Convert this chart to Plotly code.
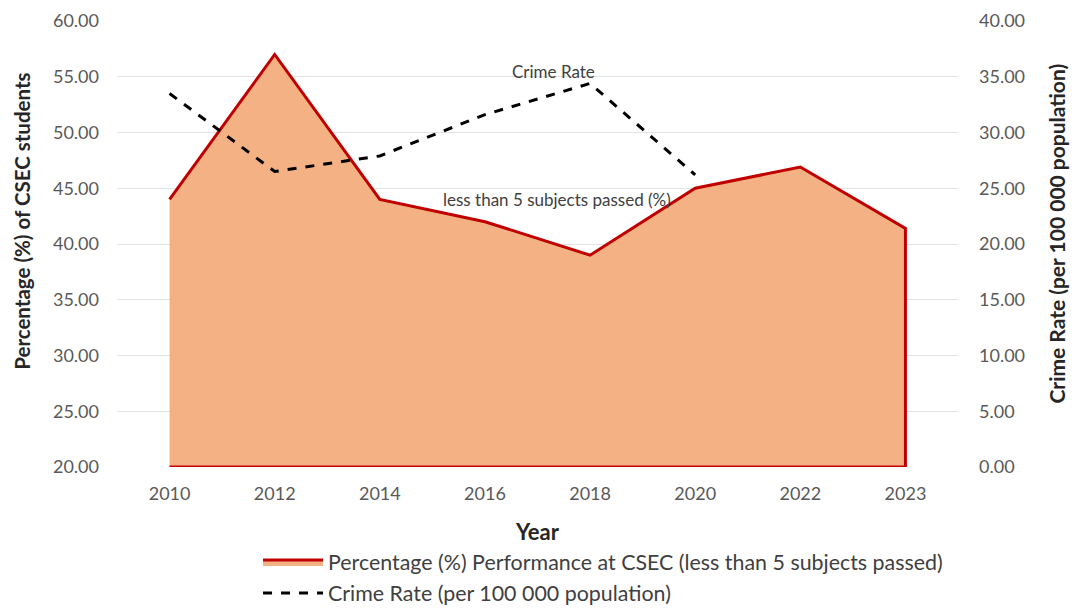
import plotly.graph_objects as go

years = ["2010", "2012", "2014", "2016", "2018", "2020", "2022", "2023"]
csec_pct = [44.0, 57.0, 44.0, 42.0, 39.0, 45.0, 46.9, 41.4]
crime_years = ["2010", "2012", "2014", "2016", "2018", "2020"]
crime_rate = [33.5, 26.5, 27.9, 31.6, 34.4, 26.2]

left_range = [20, 60]
right_range = [0, 40]
left_ticks = [20, 25, 30, 35, 40, 45, 50, 55, 60]
right_ticks = [0, 5, 10, 15, 20, 25, 30, 35, 40]

FONT = "Lato"
base = left_range[0]

fig = go.Figure()

poly_x = years + [years[-1], years[0]]
poly_y = csec_pct + [base, base]
fig.add_trace(go.Scatter(
    x=poly_x, y=poly_y, mode="lines", fill="toself",
    fillcolor="#F4B183", line=dict(color="#C00000", width=3),
    name="Percentage (%) Performance at CSEC (less than 5 subjects passed)",
    legend="legend", hoverinfo="skip", showlegend=True,
))
fig.add_trace(go.Scatter(
    x=crime_years, y=crime_rate, mode="lines", yaxis="y2",
    line=dict(color="black", width=3, dash="dash"),
    name="Crime Rate (per 100 000 population)", legend="legend2", showlegend=True,
))

tickfont = dict(family=FONT, size=18, color="#595959")
titlefont = dict(family=FONT, size=21, color="#262626", weight="bold")
legfont = dict(family=FONT, size=21.4, color="#404040")
annfont = dict(family=FONT, size=17, color="#404040")

fig.update_layout(
    width=1071, height=602,
    margin=dict(l=109, r=121, t=13, b=143, autoexpand=False),
    paper_bgcolor="white", plot_bgcolor="white",
    font=dict(family=FONT),
    showlegend=True,
    xaxis=dict(
        type="category", categoryorder="array", categoryarray=years,
        range=[-0.5, len(years) - 0.5], showgrid=False, showline=False,
        zeroline=False, tickfont=tickfont, ticks="", ticklabelstandoff=14,
        title=dict(text="Year", font=dict(titlefont, size=22), standoff=21),
    ),
    yaxis=dict(
        range=left_range, tickvals=left_ticks,
        ticktext=[f"{v:.2f}" for v in left_ticks],
        showgrid=True, gridcolor="#E3E3E3", gridwidth=1, zeroline=False,
        showline=False, ticks="", tickfont=tickfont, ticklabelstandoff=17,
    ),
    yaxis2=dict(
        range=right_range, tickvals=right_ticks,
        ticktext=[f"{v:.2f}" for v in right_ticks],
        overlaying="y", side="right", showgrid=False, zeroline=False,
        showline=False, ticks="", tickfont=tickfont, ticklabelstandoff=20,
    ),
    legend=dict(
        x=0.1677, y=-0.213, xanchor="left", yanchor="middle",
        font=legfont, itemwidth=60, bgcolor="rgba(0,0,0,0)",
    ),
    legend2=dict(
        x=0.1677, y=-0.2825, xanchor="left", yanchor="middle",
        font=legfont, itemwidth=60, bgcolor="rgba(0,0,0,0)",
    ),
    annotations=[
        dict(text="Percentage (%) of CSEC students", x=-0.113, y=0.552,
             xref="paper", yref="paper", textangle=-90,
             xanchor="center", yanchor="middle", showarrow=False,
             font=dict(titlefont, size=20.5)),
        dict(text="Crime Rate (per 100 000 population)", x=1.116, y=0.5224,
             xref="paper", yref="paper", textangle=-90,
             xanchor="center", yanchor="middle", showarrow=False,
             font=dict(titlefont, size=21)),
        dict(text="Crime Rate", x=crime_years.index("2018"), y=crime_rate[crime_years.index("2018")],
             xref="x", yref="y2",
             xanchor="center", yanchor="bottom", xshift=-37, yshift=-1, showarrow=False,
             font=annfont),
        dict(text="less than 5 subjects passed (%)", x=3.69, y=44.0, xref="x", yref="y",
             xanchor="center", yanchor="middle", showarrow=False,
             font=annfont),
    ],
)

fig.write_html("out.html")
